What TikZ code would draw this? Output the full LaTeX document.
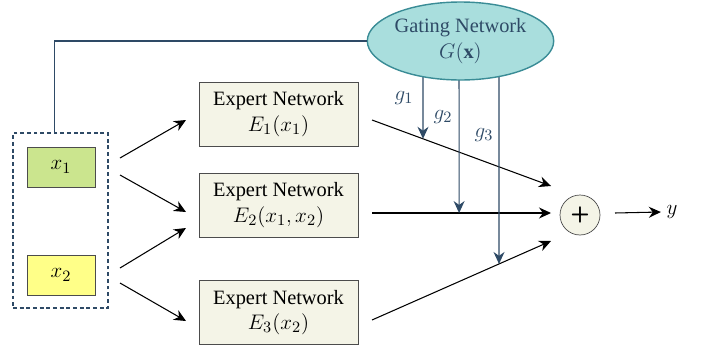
\documentclass[tikz,border=0pt]{standalone}
\usepackage{amsmath,amssymb}
\usepackage{fontspec}
\setmainfont{Liberation Serif}[Scale = 0.92]
\usepackage{tikz}
\usetikzlibrary{arrows.meta,shapes.geometric}
\definecolor{linkblue}{HTML}{2E4A66}
\definecolor{gatefill}{HTML}{A9DEDD}
\definecolor{gateedge}{HTML}{3A8C96}
\definecolor{expfill}{HTML}{F4F4E7}
\definecolor{xonefill}{HTML}{CBE58E}
\definecolor{xtwofill}{HTML}{FFFF88}
\tikzset{
  expertbox/.style = {draw = black!70, fill = expfill, minimum width = 3.18cm, minimum height = 1.28cm, align = center, inner sep = 0},
  inbox/.style = {draw = black!70, minimum width = 1.36cm, minimum height = 0.8cm, inner sep = 0},
  flow/.style = {-{Stealth[length = 2.4mm, width = 2.2mm]}, semithick},
  gateflow/.style = {-{Stealth[length = 2.4mm, width = 2.2mm]}, semithick, linkblue},
}
\begin{document}
\begin{tikzpicture}[x = 0.02cm, y = -0.02cm, font = \fontsize{12.6}{14.5}\selectfont]
  \useasboundingbox (0, 0) rectangle (706, 352);
  % inputs
  \node [draw = linkblue, semithick, dash pattern = on 2.2pt off 1.6pt, minimum width = 1.9cm, minimum height = 3.5cm] (inputs) at (60.5, 220.5) {};
  \node [inbox, fill = xonefill] (x1) at (61, 167) {$x_1$};
  \node [inbox, fill = xtwofill] (x2) at (61, 275) {$x_2$};
  % experts
  \node [expertbox] (e1) at (278.5, 114) {Expert Network\\ $E_1(x_1)$};
  \node [expertbox] (e2) at (278.5, 205) {Expert Network\\ $E_2(x_1, x_2)$};
  \node [expertbox] (e3) at (278.5, 312.5) {Expert Network\\ $E_3(x_2)$};
  \node [draw = black!70, fill = expfill, circle, minimum size = 0.8cm, inner sep = 0] (sum) at (580, 215) {\sffamily\bfseries +};
  \node (y) at (672, 212) {$y$};
  % input arrows
  \coordinate (a1) at (120, 158);
  \coordinate (a2) at (120, 175);
  \coordinate (a3) at (120, 268);
  \coordinate (a4) at (120, 283);
  \coordinate (b1) at (186, 120);
  \coordinate (b2) at (186, 212);
  \coordinate (b3) at (186, 228);
  \coordinate (b4) at (186, 321);
  \draw [flow] (a1) -- (b1);
  \draw [flow] (a2) -- (b2);
  \draw [flow] (a3) -- (b3);
  \draw [flow] (a4) -- (b4);
  % expert outputs
  \coordinate (o1) at (372, 120);
  \coordinate (o2) at (372, 213);
  \coordinate (o3) at (372, 320);
  \coordinate (s1) at (551, 186);
  \coordinate (s2) at (551, 213);
  \coordinate (s3) at (551, 241);
  \draw [flow] (o1) -- (s1);
  \draw [flow] (o2) -- (s2);
  \draw [flow] (o3) -- (s3);
  \coordinate (y0) at (615, 213);
  \draw [flow] (y0) -- (y.west);
  % gates
  \coordinate (g1) at (423, 60);
  \coordinate (g2) at (459, 60);
  \coordinate (g3) at (499, 60);
  \draw [gateflow] (g1) -- (intersection of g1--{(423, 300)} and o1--s1);
  \draw [gateflow] (g2) -- (intersection of g2--{(459, 300)} and o2--s2);
  \draw [gateflow] (g3) -- (intersection of g3--{(499, 300)} and o3--s3);
  \node [text = linkblue] (l1) at (404, 98) {$g_1$};
  \node [text = linkblue] (l2) at (443, 117) {$g_2$};
  \node [text = linkblue] (l3) at (484, 135) {$g_3$};
  \node [ellipse, draw = gateedge, thick, fill = gatefill, text = linkblue, minimum width = 3.5cm, minimum height = 1.56cm, inner sep = 0, align = center] (gate) at (460.5, 41) {Gating Network\\ $G(\mathbf{x})$};
  \draw [linkblue, semithick] ([xshift = -3.5pt]inputs.north) |- (gate.west);
\end{tikzpicture}
\end{document}
